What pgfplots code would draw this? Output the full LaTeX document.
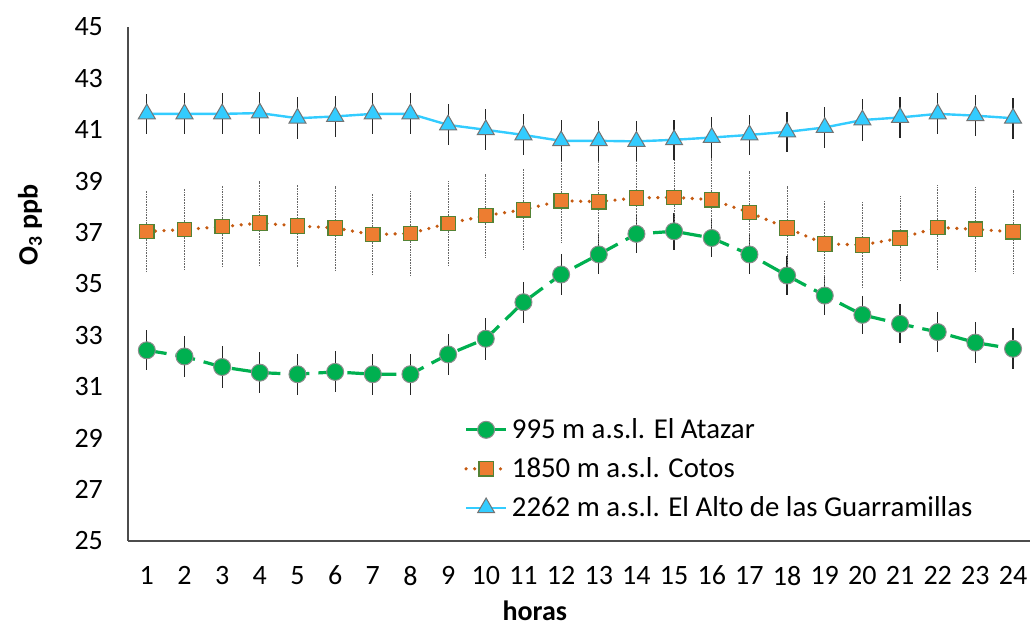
\documentclass[border=0pt]{standalone}
\usepackage{pgfplots}
\pgfplotsset{compat=1.18}
\usepackage{fontspec}
\setmainfont{Carlito}
\definecolor{cgreen}{HTML}{00B050}
\definecolor{corange}{HTML}{ED7D31}
\definecolor{cdorange}{HTML}{C55A11}
\definecolor{cblue}{HTML}{33CCFF}
\definecolor{colive}{HTML}{548235}
\begin{document}
\begin{tikzpicture}
\path[use as bounding box] (-64pt,-42.5pt) rectangle (451pt,270.5pt);
\begin{axis}[
  anchor=south west, at={(0,0)},
  scale only axis, width=451pt, height=257pt,
  xmin=0.5, xmax=24.45, ymin=25, ymax=45,
  axis lines*=left,
  axis line style={black!70, line width=0.6pt},
  xtick={1,...,24}, ytick={25,27,...,45},
  major tick length=0pt,
  /pgf/number format/assume math mode=true,
  tick label style={font=\fontsize{14}{16}\selectfont},
  yticklabel style={xshift=-9pt},
  xticklabel style={yshift=-9pt},
  xlabel={horas}, ylabel={O\textsubscript{3} ppb},
  label style={font=\fontsize{14}{16}\selectfont\bfseries},
  xlabel style={at={(axis description cs:0.451,0)}, anchor=center, yshift=-35pt},
  ylabel style={at={(axis description cs:-0.1086,0.615)}, anchor=center},
  legend style={at={(axis cs:9.26,30.1)}, anchor=north west, draw=none, fill=none,
    font=\fontsize{14.4}{16}\selectfont, row sep=4pt, legend cell align=left,
    nodes={inner sep=2pt}},
  legend image code/.code={\draw[mark repeat=2,mark phase=2] plot coordinates {(0pt,0pt) (10pt,0pt) (20pt,0pt)};},
]
\addplot[cgreen, line width=1.6pt, dash pattern=on 10pt off 4.5pt,
  mark=*, mark size=4.25pt, mark options={solid, fill=cgreen, draw=black!45, line width=0.5pt},
  error bars/.cd, y dir=both, y explicit, error mark=none,
  error bar style={black!85, line width=0.6pt, solid}]
  table[x=x, y=y, y error=e] {
x y e
1 32.42 0.78
2 32.18 0.80
3 31.77 0.80
4 31.55 0.80
5 31.49 0.80
6 31.58 0.80
7 31.49 0.80
8 31.49 0.80
9 32.26 0.80
10 32.87 0.81
11 34.29 0.80
12 35.37 0.80
13 36.15 0.76
14 36.95 0.75
15 37.05 0.72
16 36.79 0.75
17 36.15 0.75
18 35.33 0.75
19 34.55 0.75
20 33.80 0.75
21 33.45 0.76
22 33.13 0.78
23 32.72 0.80
24 32.48 0.80
};
\addlegendentry{995 m a.s.l. El Atazar}
\addplot[cdorange, line width=1.8pt, line cap=round, dash pattern=on 0pt off 4.3pt,
  mark=square*, mark size=3.6pt, mark options={solid, fill=corange, draw=colive, line width=0.6pt},
  error bars/.cd, y dir=both, y explicit, error mark=none,
  error bar style={black!60, line width=0.5pt, dash pattern=on 0.8pt off 0.5pt, line cap=butt}]
  table[x=x, y=y, y error=e] {
x y e
1 37.04 1.60
2 37.12 1.59
3 37.23 1.61
4 37.37 1.62
5 37.26 1.61
6 37.18 1.63
7 36.92 1.61
8 36.97 1.64
9 37.36 1.65
10 37.66 1.63
11 37.89 1.61
12 38.24 1.62
13 38.20 1.63
14 38.35 1.63
15 38.37 1.63
16 38.28 1.63
17 37.78 1.63
18 37.18 1.64
19 36.56 1.65
20 36.52 1.70
21 36.78 1.64
22 37.20 1.65
23 37.13 1.63
24 37.03 1.63
};
\addlegendentry{1850 m a.s.l. Cotos}
\addplot[cblue, line width=1.2pt,
  mark=triangle*, mark size=4.9pt, mark options={solid, fill=cblue, draw=black!55, line width=0.5pt},
  error bars/.cd, y dir=both, y explicit, error mark=none,
  error bar style={black!85, line width=0.6pt, solid}]
  table[x=x, y=y, y error=e] {
x y e
1 41.62 0.78
2 41.62 0.80
3 41.62 0.80
4 41.65 0.82
5 41.45 0.82
6 41.52 0.80
7 41.62 0.80
8 41.62 0.80
9 41.19 0.80
10 41.00 0.80
11 40.80 0.80
12 40.57 0.80
13 40.57 0.78
14 40.55 0.78
15 40.61 0.78
16 40.70 0.78
17 40.80 0.78
18 40.92 0.78
19 41.09 0.80
20 41.38 0.80
21 41.48 0.80
22 41.62 0.80
23 41.55 0.80
24 41.45 0.80
};
\addlegendentry{2262 m a.s.l. El Alto de las Guarramillas}
\end{axis}
\end{tikzpicture}
\end{document}
